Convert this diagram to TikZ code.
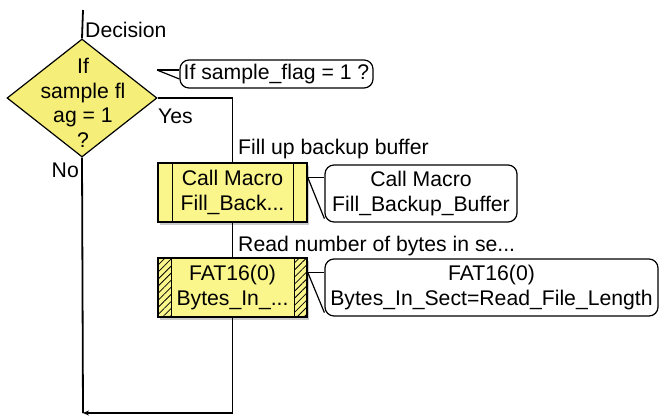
\documentclass[tikz,border=0pt]{standalone}
\usepackage{fontspec}
\setmainfont{Liberation Sans}
\usetikzlibrary{shapes.geometric,arrows.meta,patterns.meta,shadows,calc}
\definecolor{decyel}{RGB}{245,238,120}
\definecolor{boxyel}{RGB}{250,246,140}
\begin{document}
\begin{tikzpicture}[x=1pt,y=-1pt,
  every node/.style={font=\fontsize{21.2}{24.5}\selectfont, inner sep=0pt},
  flow/.style={line width=1.8pt, black},
  procbox/.style={draw, line width=1.4pt, fill=boxyel, minimum width=149pt, minimum height=59pt, align=center,
     drop shadow={shadow xshift=2pt, shadow yshift=-3pt, fill=gray!40, opacity=1}},
  note/.style={draw, line width=1.2pt, rounded corners=9pt, fill=white, align=center},
  tail/.style={line width=1.2pt},
  strip/.style={line width=1.2pt},
  hatch/.style={pattern={Lines[angle=45,distance=5pt,line width=0.8pt]}},
  lbl/.style={anchor=west}]
\useasboundingbox (0,0) rectangle (659,416);

% decision
\node[diamond, draw, line width=1.2pt, fill=decyel, minimum width=150pt, minimum height=118pt] (dec) at (82,98) {};
\node[align=center] (dectxt) at (83,103) {If\\sample fl\\ag = 1\\?};
\coordinate (top) at (83,10);
\coordinate (join) at (83,413);

% process boxes
\node[procbox] (b1) at (232.5,192.5) {Call Macro\\Fill\_Back...};
\draw[strip] ([xshift=15pt]b1.north west) -- ([xshift=15pt]b1.south west);
\draw[strip] ([xshift=-14pt]b1.north east) -- ([xshift=-14pt]b1.south east);

\node[procbox] (b2) at (232.5,287.5) {FAT16(0)\\Bytes\_In\_...};
\fill[hatch] (b2.north west) rectangle ([xshift=14pt]b2.south west);
\fill[hatch] ([xshift=-13pt]b2.north east) rectangle (b2.south east);
\draw[strip] ([xshift=14pt]b2.north west) -- ([xshift=14pt]b2.south west);
\draw[strip] ([xshift=-13pt]b2.north east) -- ([xshift=-13pt]b2.south east);
\draw[line width=1.4pt] (b2.north west) rectangle (b2.south east);

% callouts
\node[note, minimum width=193pt, minimum height=28pt] (n0) at (276.5,74) {If sample\_flag = 1 ?};
\coordinate (t0) at (157,70);
\draw[tail] (t0) -- (t0 -| n0.west);
\draw[tail] (t0) -- ($(n0.west)+(0,5)$);

\node[note, minimum width=192pt, minimum height=57pt] (n1) at (421,193.5) {Call Macro\\Fill\_Backup\_Buffer};
\coordinate (t1) at ($(b1.north east)+(0,15)$);
\draw[tail] (t1) -- (t1 -| n1.west);
\draw[tail] (t1) -- ($(n1.south west)+(0,-4)$);

\node[note, minimum width=333pt, minimum height=57pt] (n2) at (491.5,287.5) {FAT16(0)\\Bytes\_In\_Sect=Read\_File\_Length};
\coordinate (t2) at ($(b2.north east)+(0,15)$);
\draw[tail] (t2) -- (t2 -| n2.west);
\draw[tail] (t2) -- ($(n2.south west)+(0,-4)$);

% labels
\node[lbl] (dlab) at (85,30) {Decision};
\node[lbl] (ylab) at (158,116) {Yes};
\node[anchor=east] (nlab) at (79,170) {No};
\node[lbl] (flab) at (238,149) {Fill up backup buffer};
\node[lbl] (rlab) at (238,246) {Read number of bytes in se...};

% flow lines
\draw[flow] (top) -- (dec.north);
\draw[flow] (dec.south) -- (join);
\draw[flow] (dec.east) -- (dec.east -| b1.north) -- (b1.north);
\draw[flow] (b1.south) -- (b2.north);
\draw[flow, -{Stealth[length=6pt,width=5pt]}] (b2.south) -- (b2.south |- join) -- (join);
\end{tikzpicture}
\end{document}
